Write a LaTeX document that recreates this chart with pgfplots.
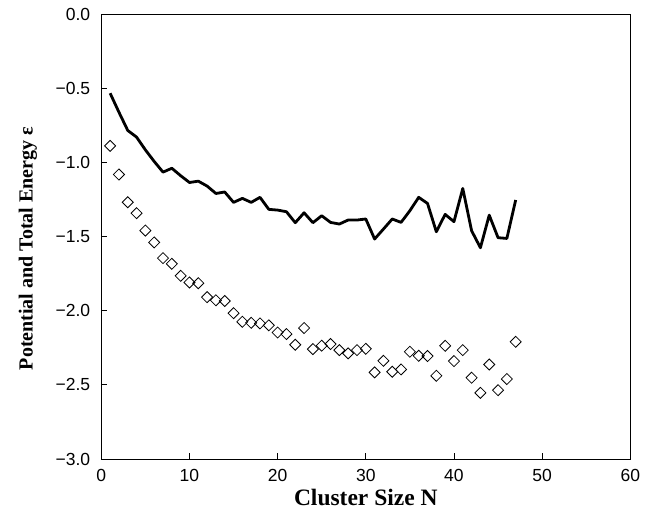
\documentclass[border=0pt]{standalone}
\usepackage{fontspec}
\setmainfont{Liberation Serif}
\newfontfamily\ticksans{Liberation Sans}
\usepackage{pgfplots}
\pgfplotsset{compat=1.18}

\pgfplotstableread{
N E
1 -0.534
2 -0.662
3 -0.785
4 -0.83
5 -0.916
6 -0.994
7 -1.066
8 -1.04
9 -1.09
10 -1.136
11 -1.127
12 -1.16
13 -1.21
14 -1.20
15 -1.27
16 -1.243
17 -1.27
18 -1.236
19 -1.317
20 -1.322
21 -1.333
22 -1.407
23 -1.34
24 -1.407
25 -1.36
26 -1.405
27 -1.416
28 -1.389
29 -1.389
30 -1.382
31 -1.517
32 -1.450
33 -1.382
34 -1.405
35 -1.326
36 -1.236
37 -1.277
38 -1.468
39 -1.351
40 -1.400
41 -1.176
42 -1.461
43 -1.576
44 -1.356
45 -1.508
46 -1.513
47 -1.254
}\linedata

\pgfplotstableread{
N E
1 -0.889
2 -1.082
3 -1.269
4 -1.343
5 -1.46
6 -1.54
7 -1.646
8 -1.684
9 -1.765
10 -1.81
11 -1.815
12 -1.909
13 -1.93
14 -1.935
15 -2.017
16 -2.075
17 -2.082
18 -2.086
19 -2.099
20 -2.147
21 -2.158
22 -2.23
23 -2.117
24 -2.259
25 -2.236
26 -2.225
27 -2.266
28 -2.288
29 -2.266
30 -2.257
31 -2.416
32 -2.338
33 -2.412
34 -2.396
35 -2.277
36 -2.304
37 -2.306
38 -2.439
39 -2.237
40 -2.340
41 -2.266
42 -2.452
43 -2.554
44 -2.363
45 -2.536
46 -2.461
47 -2.210
}\diamdata

\begin{document}
\begin{tikzpicture}
\begin{axis}[
  scale only axis,
  width=529pt, height=445pt,
  xmin=0, xmax=60, ymin=-3, ymax=0,
  xtick={0,10,20,30,40,50,60},
  xticklabels={0,10,20,30,40,50,60},
  ytick={-3,-2.5,-2,-1.5,-1,-0.5,0},
  yticklabels={−3.0,−2.5,−2.0,−1.5,−1.0,−0.5,0.0},
  tick align=inside,
  xtick pos=left, ytick pos=left,
  major tick length=6pt,
  tick style={black, line width=0.8pt},
  axis line style={black, line width=0.9pt},
  ticklabel style={font=\ticksans\fontsize{17.5}{20}\selectfont, inner sep=0pt},
  xticklabel style={anchor=north, yshift=-10.5pt},
  yticklabel style={anchor=east, xshift=-11pt},
  xlabel={Cluster Size N},
  ylabel={Potential and Total Energy ε},
  xlabel style={font=\bfseries\fontsize{23.5}{25}\selectfont, at={(axis description cs:0.5,-0.1056)}, anchor=base, inner sep=0pt},
  ylabel style={font=\bfseries\fontsize{20}{22}\selectfont, at={(axis description cs:-0.1386,0.473)}, anchor=center, inner sep=0pt},
  clip=false,
]
\addplot[black, line width=2.8pt, line join=round] table[x=N, y=E] {\linedata};
\addplot[only marks, mark=square, mark size=3.9pt, mark options={rotate=45, line width=0.8pt, black, fill=none}] table[x=N, y=E] {\diamdata};
\coordinate (SW) at (rel axis cs:0,0);
\end{axis}
\pgfresetboundingbox
\path (SW) ++(-101.3pt,-51pt) rectangle ++(653pt,510pt);
\end{tikzpicture}
\end{document}
